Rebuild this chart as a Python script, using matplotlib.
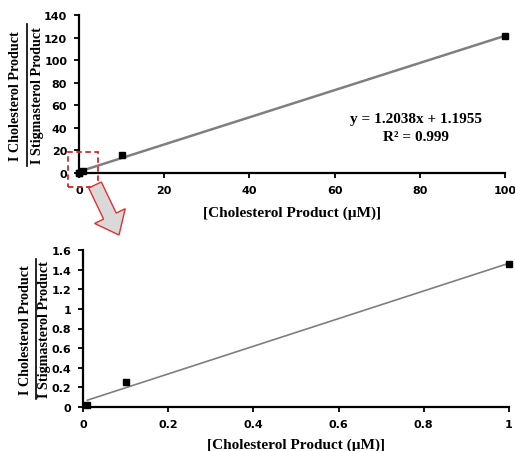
import numpy as np
import matplotlib
matplotlib.use("Agg")
import matplotlib.pyplot as plt
import matplotlib.patches as mpatches
import matplotlib.transforms as mtransforms
from matplotlib.lines import Line2D
from matplotlib.ticker import FuncFormatter

# data
conc_full = [0.01, 0.1, 1, 10, 100]
ratio_full = [0.02, 0.25, 1.46, 16, 121]
fit_slope = 1.2038
fit_intercept = 1.1955
eq_text = "y = 1.2038x + 1.1955"
r2_text = "R² = 0.999"

conc_low = [0.01, 0.1, 1]
ratio_low = [0.02, 0.25, 1.46]

xlabel = "[Cholesterol Product (µM)]"
num_text = "I Cholesterol Product"
den_text = "I Stigmasterol Product"

W, H = 515, 452
fig = plt.figure(figsize=(W / 100, H / 100), dpi=100)

serif = "Liberation Serif"


def fr(x0, y0, x1, y1):
    # pixel box (top-left origin) -> figure fraction rect
    return [x0 / W, 1 - y1 / H, (x1 - x0) / W, (y1 - y0) / H]


def style(ax):
    for s in ["top", "right"]:
        ax.spines[s].set_visible(False)
    for s in ["left", "bottom"]:
        ax.spines[s].set_linewidth(1.6)
    ax.tick_params(direction="out", length=3.5, width=1.3, pad=5)
    for lab in ax.get_xticklabels() + ax.get_yticklabels():
        lab.set_fontfamily("DejaVu Sans")
        lab.set_fontweight("bold")
        lab.set_fontsize(8)


def frac_label(xn, xl, xd, ytop, ybot):
    yc = 1 - (ytop + ybot) / 2 / H
    fig.text(xn / W, yc, num_text, rotation=90, ha="center", va="center",
             family=serif, weight="bold", fontsize=10.2)
    fig.text(xd / W, yc, den_text, rotation=90, ha="center", va="center",
             family=serif, weight="bold", fontsize=10.2)
    fig.add_artist(Line2D([xl / W, xl / W], [1 - ybot / H, 1 - ytop / H],
                          color="black", lw=1.2, transform=fig.transFigure))


# top panel
ax1 = fig.add_axes(fr(79, 16, 505, 174))
xs = np.array([0, max(conc_full)])
ax1.plot(xs, fit_slope * xs + fit_intercept, color="#7f7f7f", lw=1.8, zorder=2)
ax1.plot(conc_full, ratio_full, "s", color="black", ms=4.5, clip_on=False, zorder=3)
ax1.set_xlim(0, 100)
ax1.set_ylim(0, 140)
ax1.set_xticks(np.arange(0, 101, 20))
ax1.set_yticks(np.arange(0, 141, 20))
ax1.set_xlabel(xlabel, family=serif, weight="bold", fontsize=11, labelpad=8)
style(ax1)
ax1.text(0.79, 0.342, eq_text, transform=ax1.transAxes, ha="center", va="center",
         family=serif, weight="bold", fontsize=11)
ax1.text(0.79, 0.234, r2_text, transform=ax1.transAxes, ha="center", va="center",
         family=serif, weight="bold", fontsize=11)
frac_label(16, 27, 38, 25, 167)

# bottom panel
ax2 = fig.add_axes(fr(83, 251, 509, 408))
fit = np.polyfit(conc_low, ratio_low, 1)
xs2 = np.array([min(conc_low), max(conc_low)])
ax2.plot(xs2, np.polyval(fit, xs2), color="#7f7f7f", lw=1.2, zorder=2)
ax2.plot(conc_low, ratio_low, "s", color="black", ms=5, clip_on=False, zorder=3)
ax2.set_xlim(0, 1)
ax2.set_ylim(0, 1.6)
ax2.set_xticks(np.arange(0, 1.01, 0.2))
ax2.set_yticks(np.arange(0, 1.61, 0.2))
fmt = FuncFormatter(lambda v, p: "%g" % round(v, 2))
ax2.xaxis.set_major_formatter(fmt)
ax2.yaxis.set_major_formatter(fmt)
ax2.set_xlabel(xlabel, family=serif, weight="bold", fontsize=11, labelpad=6)
style(ax2)
frac_label(25.5, 35.5, 45, 260, 400)

# zoom box and arrow (pixel coordinates)
px = mtransforms.IdentityTransform()
box = mpatches.Rectangle((68, H - 188), 30, 35, fill=False, edgecolor="#d62728",
                         lw=1.3, ls=(0, (3, 2)), transform=px)
fig.add_artist(box)
arrow = mpatches.FancyArrow(95, H - 186, 24, -50, width=14, head_width=34,
                            head_length=21, length_includes_head=True,
                            facecolor="#d9d9d9", edgecolor="#e03030", lw=1,
                            transform=px)
fig.add_artist(arrow)

fig.savefig("out.png", dpi=100, facecolor="white")
